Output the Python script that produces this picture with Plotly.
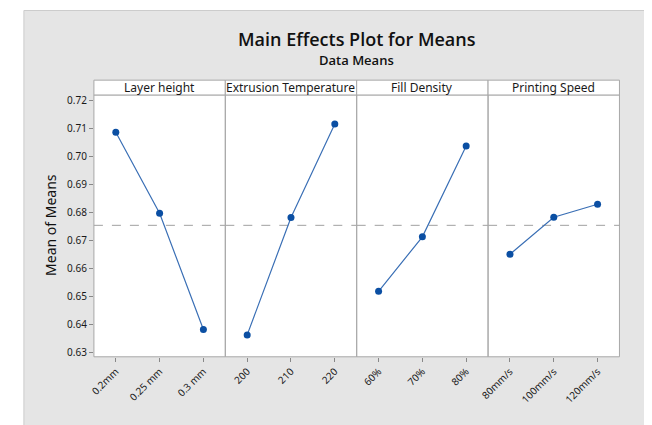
import plotly.graph_objects as go

factors = ["Layer height", "Extrusion Temperature", "Fill Density", "Printing Speed"]
levels = [
    ["0.2mm", "0.25 mm", "0.3 mm"],
    ["200", "210", "220"],
    ["60%", "70%", "80%"],
    ["80mm/s", "100mm/s", "120mm/s"],
]
means = [
    [0.7085, 0.6797, 0.6383],
    [0.6364, 0.6782, 0.7115],
    [0.6519, 0.6713, 0.7036],
    [0.6651, 0.6783, 0.6829],
]
grand_mean = 0.6754
y_ticks = [0.63, 0.64, 0.65, 0.66, 0.67, 0.68, 0.69, 0.70, 0.71, 0.72]

OFF = 8  # page body margin
W, H = 652 - OFF, 425 - OFF
FONT = "Noto Sans"
x0, x1 = 86 - OFF, 619 - OFF
ybot, ytop, yhead = 359 - OFF, 94 - OFF, 79 - OFF
pw = (x1 - x0) / 4

fig = go.Figure()
layout = dict(
    width=W, height=H,
    margin=dict(l=0, r=0, t=0, b=0),
    paper_bgcolor="white",
    plot_bgcolor="white",
    showlegend=False,
    font=dict(family=FONT, color="#1a1a1a"),
)
shapes = []
annotations = []

# gray background panel
shapes.append(dict(type="rect", xref="paper", yref="paper",
                   x0=(15 - OFF) / W, x1=(649 - OFF) / W, y0=-0.01, y1=1 - 0.5 / H,
                   fillcolor="#e5e5e5", line=dict(color="#cccccc", width=1), layer="below"))
# white plotting area
shapes.append(dict(type="rect", xref="paper", yref="paper",
                   x0=x0 / W, x1=x1 / W, y0=1 - ybot / H, y1=1 - ytop / H,
                   fillcolor="white", line=dict(width=0), layer="below"))

for i in range(4):
    ax = "" if i == 0 else str(i + 1)
    dx0 = (x0 + i * pw) / W
    dx1 = (x0 + (i + 1) * pw) / W
    fig.add_trace(go.Scatter(
        x=[1, 2, 3], y=means[i], mode="lines+markers",
        line=dict(color="#3a6fb5", width=1.2),
        marker=dict(color="#0b4fa3", size=7),
        xaxis="x" + ax, yaxis="y" + ax, hoverinfo="skip"))
    layout["xaxis" + ax] = dict(
        domain=[dx0, dx1], range=[0.5, 3.5],
        tickmode="array", tickvals=[1, 2, 3], ticktext=levels[i],
        tickangle=-45, ticks="outside", ticklen=4, tickcolor="#888888",
        tickfont=dict(size=10, family=FONT, color="#1a1a1a"),
        showgrid=False, zeroline=False, showline=False,
        anchor="y" + ax, fixedrange=True)
    ydict = dict(
        domain=[1 - ybot / H, 1 - ytop / H], range=[0.6286, 0.7218],
        tickmode="array", tickvals=y_ticks,
        ticktext=["%.2f" % v for v in y_ticks],
        showgrid=False, zeroline=False, showline=False,
        anchor="x" + ax, fixedrange=True,
        tickfont=dict(size=10, family=FONT, color="#1a1a1a"))
    if i == 0:
        ydict.update(ticks="outside", ticklen=4, tickcolor="#888888")
    else:
        ydict.update(showticklabels=False, ticks="", matches="y")
    layout["yaxis" + ax] = ydict
    # reference line
    shapes.append(dict(type="line", xref="x" + ax + " domain", yref="y" + ax,
                       x0=0, x1=1, y0=grand_mean, y1=grand_mean,
                       line=dict(color="#a0a0a0", width=1, dash="dash"), layer="below"))
    # panel border
    shapes.append(dict(type="rect", xref="paper", yref="paper",
                       x0=dx0, x1=dx1, y0=1 - ybot / H, y1=1 - ytop / H,
                       line=dict(color="#a8a8a8", width=1), fillcolor="rgba(0,0,0,0)"))
    # header strip
    shapes.append(dict(type="rect", xref="paper", yref="paper",
                       x0=dx0, x1=dx1, y0=1 - ytop / H, y1=1 - yhead / H,
                       line=dict(color="#a8a8a8", width=1), fillcolor="white"))
    annotations.append(dict(xref="paper", yref="paper",
                            x=(dx0 + dx1) / 2, y=1 - (ytop + yhead) / 2 / H,
                            text=factors[i], showarrow=False,
                            font=dict(size=12, family=FONT, color="#1a1a1a"),
                            xanchor="center", yanchor="middle"))

annotations.append(dict(xref="paper", yref="paper", x=(x0 + x1) / 2 / W, y=1 - (37 - OFF) / H,
                        text="Main Effects Plot for Means", showarrow=False,
                        font=dict(size=18, family="Open Sans", weight=600, color="#111111"),
                        xanchor="center", yanchor="middle"))
annotations.append(dict(xref="paper", yref="paper", x=(x0 + x1) / 2 / W, y=1 - (59 - OFF) / H,
                        text="Data Means", showarrow=False,
                        font=dict(size=13, family="Open Sans", weight=600, color="#111111"),
                        xanchor="center", yanchor="middle"))
annotations.append(dict(xref="paper", yref="paper", x=(42 - OFF) / W, y=1 - (226 - OFF) / H,
                        text="Mean of Means", showarrow=False, textangle=-90,
                        font=dict(size=14, family=FONT, color="#111111"),
                        xanchor="center", yanchor="middle"))

layout["shapes"] = shapes
layout["annotations"] = annotations
fig.update_layout(**layout)
fig.write_html("out.html")
